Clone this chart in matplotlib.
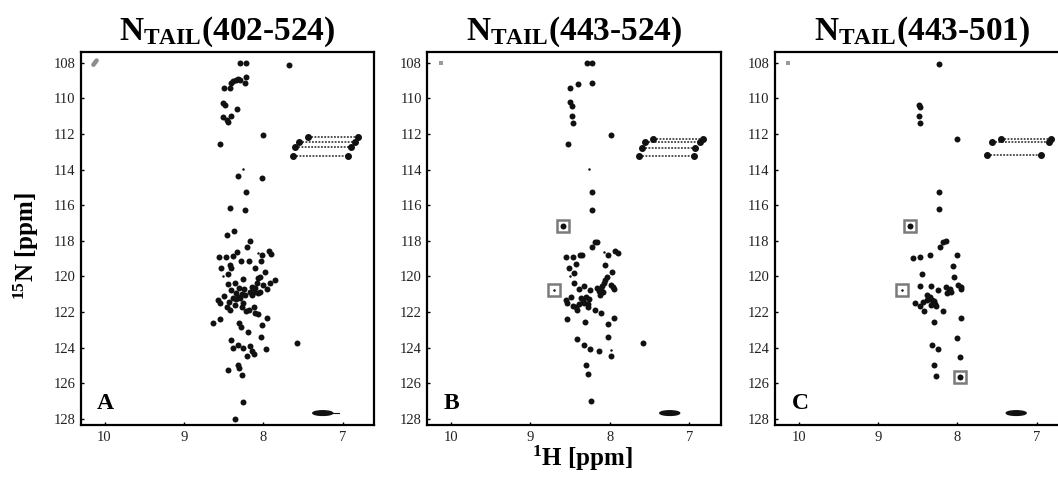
import matplotlib
matplotlib.use("Agg")
import matplotlib.pyplot as plt
from matplotlib.patches import Ellipse

plt.rcParams["font.family"] = ["Liberation Serif", "DejaVu Serif"]
plt.rcParams["mathtext.fontset"] = "custom"
plt.rcParams["mathtext.rm"] = "Liberation Serif"
plt.rcParams["mathtext.bf"] = "Liberation Serif:bold"
plt.rcParams["mathtext.it"] = "Liberation Serif:italic"

titles = ["402-524", "443-524", "443-501"]
letters = ["A", "B", "C"]
x_ticks = [10, 9, 8, 7]
y_ticks = [108, 110, 112, 114, 116, 118, 120, 122, 124, 126, 128]

# --- panel A: backbone amide peaks (1H, 15N) ---
a_h = [8.29, 8.22, 7.68, 8.22,
       8.40, 8.38, 8.34, 8.32, 8.29, 8.23, 8.50, 8.42,
       8.51, 8.48, 8.33, 8.51, 8.46, 8.45, 8.40, 8.00, 8.54,
       8.32, 8.02, 8.22, 8.42, 8.23, 8.46, 8.37,
       8.17, 8.21, 8.56, 8.47, 8.38, 8.33, 8.02, 7.93, 7.90,
       8.28, 8.18, 8.03, 8.53, 8.42, 8.41, 8.10,
       8.45, 7.98, 8.04, 8.07, 8.26, 8.36, 8.45, 8.08, 8.00, 7.92, 7.85,
       8.40, 8.31, 8.24, 8.14, 8.10, 8.12, 8.04, 7.95,
       8.49, 8.34, 8.32, 8.27, 8.23, 8.17, 8.14, 8.07,
       8.57, 8.55, 8.43, 8.38, 8.34, 8.29, 8.25,
       8.46, 8.42, 8.36, 8.27, 8.22, 8.18, 8.12, 8.10, 8.06,
       8.63, 8.55, 8.31, 8.28, 8.02, 7.95, 8.19, 8.03,
       8.41, 8.38, 8.32, 8.25, 8.17, 8.14, 8.12, 8.20, 7.96, 7.57,
       8.32, 8.30, 8.44, 8.27, 8.25, 8.36]
a_n = [108.02, 108.00, 108.13, 108.81,
       109.14, 109.03, 108.95, 108.94, 108.95, 109.14, 109.44, 109.40,
       110.24, 110.39, 110.63, 111.05, 111.23, 111.33, 111.01, 112.07, 112.59,
       114.37, 114.50, 115.27, 116.18, 116.27, 117.68, 117.43,
       118.01, 118.33, 118.89, 118.89, 118.83, 118.63, 118.80, 118.57, 118.74,
       119.11, 119.11, 119.11, 119.51, 119.36, 119.51, 119.51,
       119.86, 119.73, 120.01, 120.10, 120.16, 120.35, 120.42, 120.38, 120.48, 120.38, 120.20,
       120.76, 120.66, 120.72, 120.61, 120.66, 120.85, 120.85, 120.70,
       121.09, 120.94, 121.13, 121.00, 121.04, 120.85, 121.04, 120.94,
       121.32, 121.47, 121.41, 121.22, 121.28, 121.22, 121.47,
       121.69, 121.88, 121.60, 121.73, 121.92, 121.88, 121.73, 122.06, 122.10,
       122.59, 122.40, 122.59, 122.85, 122.72, 122.34, 123.13, 123.41,
       123.56, 124.02, 123.84, 124.02, 123.89, 124.21, 124.34, 124.45, 124.08, 123.74,
       124.96, 125.14, 125.24, 125.52, 127.05, 127.98]
a_small_h = [8.26, 8.07, 8.51]
a_small_n = [113.99, 118.67, 119.97]
a_nh2_n = [112.19, 112.48, 112.73, 113.22]
a_nh2_left = [7.43, 7.55, 7.60, 7.62]
a_nh2_right = [6.81, 6.84, 6.90, 6.93]
a_box_h = []
a_box_n = []

# --- panel B ---
b_h = [8.29, 8.22, 8.22, 8.40, 8.50, 8.50, 8.48, 8.48, 8.46, 7.99, 8.53,
       8.22, 8.22, 8.59,
       8.16, 8.19, 8.22, 8.02, 7.93, 7.90, 8.55, 8.47, 8.37, 8.35,
       8.43, 8.52, 8.06, 7.97, 8.45, 8.04, 8.06, 8.07, 8.10, 8.45,
       8.39, 8.33, 8.25, 8.16, 8.14, 8.11, 8.08, 8.13, 7.99, 7.96, 7.95,
       8.55, 8.54, 8.49, 8.36, 8.34, 8.30, 8.26, 8.32, 8.28, 8.27, 8.39, 8.43, 8.46,
       8.41, 8.19, 8.11, 8.54, 8.31, 8.02, 7.95,
       8.02, 8.41, 8.32, 8.25, 8.14, 7.98, 7.58, 8.30, 8.27, 8.24]
b_n = [108.00, 108.04, 109.12, 109.18, 109.44, 110.20, 110.45, 111.00, 111.38, 112.07, 112.59,
       115.25, 116.27, 117.15,
       118.05, 118.05, 118.33, 118.78, 118.55, 118.70, 118.93, 118.93, 118.80, 118.80,
       119.32, 119.50, 119.35, 119.73, 119.82, 120.01, 120.19, 120.38, 120.53, 120.38,
       120.72, 120.53, 120.75, 120.66, 120.81, 120.75, 120.85, 121.03, 120.47, 120.62, 120.70,
       121.31, 121.47, 121.13, 121.22, 121.37, 121.16, 121.26, 121.50, 121.54, 121.72, 121.55, 121.72, 121.65,
       121.91, 121.87, 122.03, 122.38, 122.57, 122.68, 122.31,
       123.41, 123.50, 123.84, 124.08, 124.17, 124.49, 123.74, 124.96, 125.48, 127.01]
b_small_h = [8.26, 8.07, 8.50, 7.99, 8.70]
b_small_n = [113.99, 118.64, 119.95, 124.12, 120.75]
b_nh2_n = [112.31, 112.44, 112.78, 113.25]
b_nh2_left = [7.45, 7.56, 7.60, 7.63]
b_nh2_right = [6.83, 6.86, 6.93, 6.94]
b_box_h = [8.59, 8.70]
b_box_n = [117.15, 120.75]

# --- panel C ---
c_h = [8.23, 8.48, 8.47, 8.48, 8.47, 8.01, 8.23, 8.23, 8.60,
       8.18, 8.15, 8.22, 8.56, 8.47, 8.35, 8.01, 8.06, 8.45, 8.04,
       8.47, 8.33, 8.25, 8.15, 8.11, 8.09, 8.13, 8.08, 7.99, 7.96, 7.95,
       8.39, 8.35, 8.32, 8.30, 8.28, 8.34, 8.27, 8.39, 8.43, 8.47, 8.42, 8.54,
       8.18, 8.30, 7.95, 8.32, 8.25, 8.01, 7.97, 8.30, 8.27, 7.97]
c_n = [108.06, 110.39, 110.48, 111.01, 111.38, 112.26, 115.28, 116.24, 117.15,
       118.07, 118.00, 118.36, 118.98, 118.92, 118.81, 118.81, 119.39, 119.84, 120.03,
       120.55, 120.53, 120.75, 120.61, 120.79, 120.68, 120.94, 120.90, 120.47, 120.61, 120.72,
       121.03, 121.18, 121.31, 121.40, 121.54, 121.59, 121.68, 121.31, 121.46, 121.68, 121.93, 121.50,
       121.93, 122.58, 122.34, 123.85, 124.08, 123.46, 124.53, 124.97, 125.57, 125.67]
c_small_h = [8.70]
c_small_n = [120.75]
c_nh2_n = [112.31, 112.48, 113.19]
c_nh2_left = [7.45, 7.56, 7.63]
c_nh2_right = [6.82, 6.85, 6.95]
c_box_h = [8.60, 8.70, 7.97]
c_box_n = [117.15, 120.75, 125.67]

# reference peak (grey, top-left) and elongated side-chain peak at the bottom
ref_h = [10.12, 10.13, 10.14]
ref_n = [108.0, 108.0, 108.0]
ell_h = [7.25, 7.245, 7.26]
ell_n = [127.67, 127.67, 127.67]

panels = [
    (a_h, a_n, a_small_h, a_small_n, a_nh2_n, a_nh2_left, a_nh2_right, a_box_h, a_box_n),
    (b_h, b_n, b_small_h, b_small_n, b_nh2_n, b_nh2_left, b_nh2_right, b_box_h, b_box_n),
    (c_h, c_n, c_small_h, c_small_n, c_nh2_n, c_nh2_left, c_nh2_right, c_box_h, c_box_n),
]

fig = plt.figure(figsize=(10.58, 4.79), dpi=100)
lefts = [0.0763, 0.4039, 0.7325]

for i, (hh, nn, sh, sn, nh2n, nl, nr, bh, bn) in enumerate(panels):
    ax = fig.add_axes([lefts[i], 0.1127, 0.2775, 0.7781])
    # NH2 side-chain pairs joined by dotted lines
    for n, l, r in zip(nh2n, nl, nr):
        ax.plot([l, r], [n, n], color="#444444", lw=1.3, ls=(0, (1, 0.8)), zorder=2)
        ax.plot([l, r], [n, n], "o", color="#111111", ms=4.0, ls="none", zorder=3)
    ax.plot(hh, nn, "o", color="#111111", ms=4.3, mew=0, ls="none", zorder=3)
    ax.plot(sh, sn, "o", color="#111111", ms=1.8, mew=0, ls="none", zorder=3)
    ax.plot(bh, bn, "s", mfc="none", mec="#7a7a7a", ms=9, mew=1.8, ls="none", zorder=4)
    if i == 0:
        # small tilted grey blob
        ax.plot([ref_h[i] + 0.02, ref_h[i] - 0.02], [ref_n[i] + 0.12, ref_n[i] - 0.12],
                color="#8c8c8c", lw=3.2, solid_capstyle="round", zorder=3)
    else:
        ax.plot(ref_h[i], ref_n[i], "s", color="#9a9a9a", ms=3.5, mew=0, zorder=3)
    ax.add_patch(Ellipse((ell_h[i], ell_n[i]), 0.25, 0.26, color="#111111", zorder=3))
    if i == 0:
        ax.plot([ell_h[i] - 0.1, ell_h[i] - 0.2], [ell_n[i], ell_n[i]],
                color="#111111", lw=0.8, zorder=3)

    ax.set_xlim(10.30, 6.60)
    ax.set_ylim(128.34, 107.42)
    ax.set_xticks(x_ticks)
    ax.set_yticks(y_ticks)
    ax.tick_params(direction="in", length=2.5, width=1, labelsize=10.5,
                   labelcolor="#222222", pad=4)
    for s in ax.spines.values():
        s.set_linewidth(1.6)
    ax.set_title(r"N$_{\mathbf{TAIL}}$(" + titles[i] + ")", fontsize=24,
                 fontweight="bold", pad=9)
    ax.text(0.056, 0.043, letters[i], transform=ax.transAxes, fontsize=17,
            fontweight="bold", ha="left", va="baseline")

fig.text(0.0246, 0.486, r"$^{\mathbf{15}}$N [ppm]", rotation=90, fontsize=18,
         fontweight="bold", ha="center", va="center")
fig.text(0.55, 0.044, r"$^{\mathbf{1}}$H [ppm]", fontsize=18,
         fontweight="bold", ha="center", va="center")

fig.savefig("out.png", dpi=100)
